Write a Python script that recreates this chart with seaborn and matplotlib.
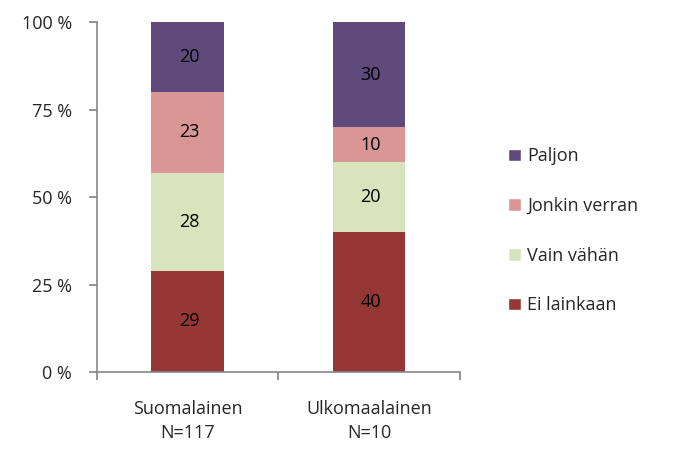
import matplotlib
matplotlib.use("Agg")
import matplotlib.pyplot as plt
import seaborn as sns
import pandas as pd
import numpy as np
from matplotlib.ticker import FixedLocator, FuncFormatter
from matplotlib.patches import Patch

groups = ["Suomalainen\nN=117", "Ulkomaalainen\nN=10"]
series = ["Ei lainkaan", "Vain vähän", "Jonkin verran", "Paljon"]
ei_lainkaan = [29, 40]
vain_vahan = [28, 20]
jonkin_verran = [23, 10]
paljon = [20, 30]
colors = ["#953735", "#D7E4BD", "#D99694", "#604A7B"]

sns.set_theme(style="white")
plt.rcParams['font.family'] = ['Open Sans', 'DejaVu Sans']

values = [ei_lainkaan, vain_vahan, jonkin_verran, paljon]
rows = []
for s, vals in zip(series, values):
    for g, v in zip(groups, vals):
        rows.append({"group": g, "series": s, "value": v})
df = pd.DataFrame(rows)

fig = plt.figure(figsize=(6.74, 4.5), dpi=100)
ax = fig.add_axes([0.144, 0.173, 0.538, 0.778])

bottom = np.zeros(len(groups))
for s, c in zip(series, colors):
    sub = df[df.series == s].set_index("group").loc[groups]
    sns.barplot(x=groups, y=sub["value"].values, bottom=bottom, color=c,
                width=0.4, ax=ax, saturation=1, linewidth=0)
    for i, v in enumerate(sub["value"].values):
        ax.text(i + 0.01, bottom[i] + v / 2, str(v), ha="center", va="center",
                fontsize=13, color="black")
    bottom += sub["value"].values

ax.set_xlim(-0.5, 1.5)
ax.set_ylim(0, 100)
ax.yaxis.set_major_locator(FixedLocator([0, 25, 50, 75, 100]))
ax.yaxis.set_major_formatter(FuncFormatter(lambda v, p: f"{int(v)} %"))
ax.xaxis.set_major_locator(FixedLocator([-0.5, 0.5, 1.5]))
ax.xaxis.set_major_formatter(FuncFormatter(lambda v, p: ""))
ax.xaxis.set_minor_locator(FixedLocator([0, 1]))
ax.set_xticklabels(groups, minor=True)
ax.tick_params(axis="x", which="minor", length=0, pad=20, labelsize=13)
ax.tick_params(axis="x", which="major", length=6, color="#888888", direction="out", bottom=True)
ax.tick_params(axis="y", length=6, color="#888888", direction="out", left=True, labelsize=13, pad=12)
for lbl in ax.get_xticklabels(minor=True):
    lbl.set_linespacing(1.45)
ax.set_xlabel("")
ax.set_ylabel("")
for sp in ["top", "right"]:
    ax.spines[sp].set_visible(False)
for sp in ["left", "bottom"]:
    ax.spines[sp].set_color("#888888")
    ax.spines[sp].set_linewidth(1.2)

handles = [Patch(facecolor=c, label=s) for s, c in zip(series, colors)][::-1]
fig.legend(handles=handles, loc="center left", bbox_to_anchor=(0.73, 0.487),
           frameon=False, fontsize=13, handlelength=0.7, handleheight=0.7,
           labelspacing=1.75, handletextpad=0.35)

fig.savefig("out.png", dpi=100)
